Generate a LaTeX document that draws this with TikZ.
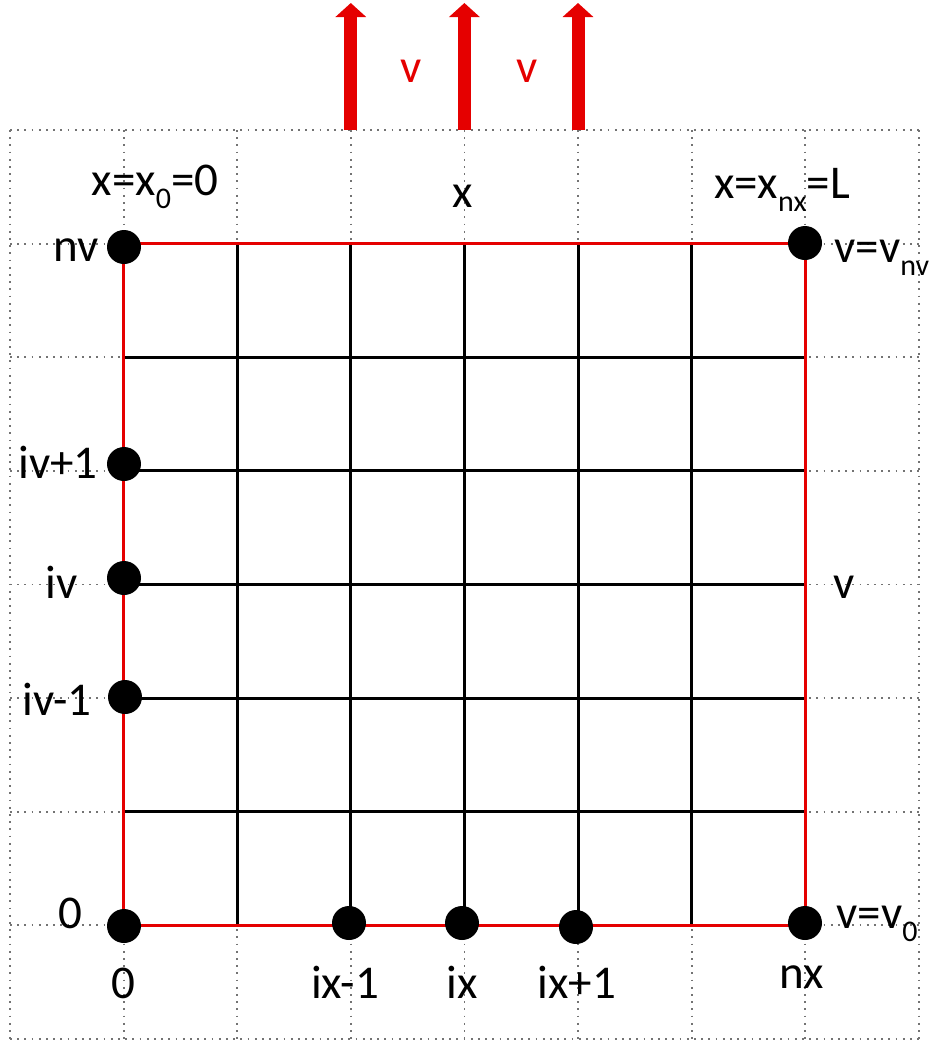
\documentclass[tikz,border=0pt]{standalone}
\usepackage{fontspec}
\setmainfont{Carlito}
\usetikzlibrary{arrows.meta}
\newcommand\lowsub[1]{\raisebox{-0.28em}{\fontsize{15}{15}\selectfont #1}}
\begin{document}
\begin{tikzpicture}[x=0.5pt,y=-0.5pt,
  dotgrid/.style={draw=black!55,line width=0.9pt,dash pattern=on 0.9pt off 2.7pt},
  meshline/.style={draw=black,line width=1.5pt},
  border/.style={draw=red!90!black,line width=1.7pt},
  pt/.style={circle,fill=black,inner sep=0pt,minimum size=17pt},
  lbl/.style={font=\fontsize{23.5}{28}\selectfont,inner sep=0pt},
  rlbl/.style={lbl,text=red!90!black},
  flow/.style={draw=red!90!black,line width=6.5pt,-{Triangle[width=15pt,length=7pt]}}]
\useasboundingbox (0,0) rectangle (933,1041);
% dotted background grid
\foreach \k in {0,...,8}{
  \draw[dotgrid] ({10+113.6*\k},130) -- ({10+113.6*\k},1038.8);
  \draw[dotgrid] (10,{130+113.6*\k}) -- (918.8,{130+113.6*\k});
}
% mesh
\foreach \k in {2,...,6}{
  \draw[meshline] ({10+113.6*\k},243.6) -- ({10+113.6*\k},925.2);
  \draw[meshline] (123.6,{130+113.6*\k}) -- (805.2,{130+113.6*\k});
}
\coordinate (c00) at (123.6,925.2);
\coordinate (c10) at (805.2,925.2);
\coordinate (c11) at (805.2,243.6);
\coordinate (c01) at (123.6,243.6);
\draw[border] (c00) -- (c10) -- (c11) -- (c01) -- cycle;
% arrows
\foreach \k/\n in {3/a,4/b,5/c}{
  \coordinate (\n0) at ({10+113.6*\k},130);
  \coordinate (\n1) at ({10+113.6*\k},3);
  \draw[flow] (\n0) -- (\n1);
}
\node[rlbl,anchor=base] (va) at (411,82) {v};
\node[rlbl,anchor=base] (vb) at (527,82) {v};
% points
\node[pt] (pnv) at (124,247) {};
\node[pt] (pne) at (805,243) {};
\node[pt] (pivp) at (124,464) {};
\node[pt] (piv) at (124,578) {};
\node[pt] (pivm) at (125,697) {};
\node[pt] (p00) at (124,926) {};
\node[pt] (pixm) at (349,923) {};
\node[pt] (pix) at (462,923) {};
\node[pt] (pixp) at (576,927) {};
\node[pt] (pnx) at (805,923) {};
% labels
\node[lbl,anchor=base] (lx0) at (155,195) {x=x\lowsub{0}=0};
\node[lbl,anchor=base] (lx) at (463,207) {x};
\node[lbl,anchor=base] (lxL) at (782,198) {x=x\lowsub{nx}=L};
\node[lbl,anchor=base east] (lnv) at (99,261) {nv};
\node[lbl,anchor=base west] (lvnv) at (834,262) {v=v\lowsub{nv}};
\node[lbl,anchor=base west] (livp) at (18,478) {iv+1};
\node[lbl,anchor=base west] (liv) at (45,598) {iv};
\node[lbl,anchor=base west] (livm) at (22,715) {iv-1};
\node[lbl,anchor=base west] (lv) at (833,598) {v};
\node[lbl,anchor=base] (l0v) at (70,928) {0};
\node[lbl,anchor=base west] (lv0) at (836,928) {v=v\lowsub{0}};
\node[lbl,anchor=base] (l0x) at (123,998) {0};
\node[lbl,anchor=base] (lixm) at (345,998) {ix-1};
\node[lbl,anchor=base] (lix) at (462,998) {ix};
\node[lbl,anchor=base] (lixp) at (577,998) {ix+1};
\node[lbl,anchor=base] (lnx) at (802,988) {nx};
\end{tikzpicture}
\end{document}
